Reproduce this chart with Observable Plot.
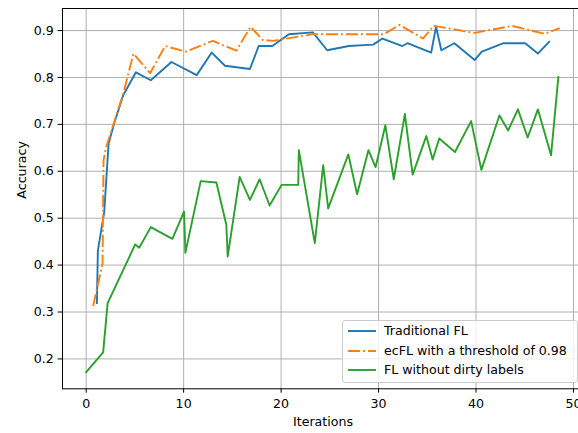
<!DOCTYPE html>
<html>
<head>
<meta charset="utf-8">
<script src="https://cdn.jsdelivr.net/npm/d3@7"></script>
<script src="https://cdn.jsdelivr.net/npm/@observablehq/plot@0.6"></script>
<style>
  html, body { margin: 0; padding: 0; background: #fff; overflow: hidden; }
  #wrap { position: relative; width: 578px; height: 433px; overflow: hidden; }
  #legend {
    position: absolute; left: 342px; top: 320px; width: 234px; height: 61px;
    border: 1px solid #cccccc; border-radius: 3px; background: rgba(255,255,255,0.8);
    font-family: "DejaVu Sans", sans-serif; font-size: 12.6px; color: #000;
  }
  #legend .row { position: absolute; left: 0; height: 20px; width: 100%; }
  #legend svg { position: absolute; left: 4px; top: 0; }
  #legend span { position: absolute; left: 41px; top: 2px; white-space: nowrap; line-height: 16px; }
</style>
</head>
<body>
<div id="wrap"></div>
<script>
// Accuracy per training round for the three set-ups
const traditionalX = [1.1, 1.2, 1.85, 2.1, 2.3, 2.87, 3.8, 5.1, 6.63, 8.75, 11.34, 12.88, 14.24, 16.8, 17.7, 19.1, 20.8, 23.26, 24.73, 26.95, 29.45, 30.4, 32.45, 32.97, 35.4, 35.9, 36.44, 37.78, 39.86, 40.6, 42.83, 45.05, 46.35, 47.5];
const traditionalY = [0.319, 0.431, 0.513, 0.595, 0.659, 0.702, 0.762, 0.811, 0.794, 0.833, 0.805, 0.853, 0.825, 0.818, 0.867, 0.867, 0.892, 0.896, 0.858, 0.867, 0.870, 0.883, 0.867, 0.873, 0.853, 0.908, 0.858, 0.873, 0.837, 0.855, 0.873, 0.873, 0.851, 0.876];

const ecflX = [0.72, 1.68, 1.78, 2.0, 3.8, 4.85, 6.56, 8.1, 10.2, 13.0, 15.4, 16.87, 18.1, 19.2, 23.2, 30.5, 32.15, 34.55, 35.65, 39.86, 43.7, 47.04, 48.6];
const ecflY = [0.313, 0.403, 0.623, 0.648, 0.765, 0.851, 0.809, 0.867, 0.855, 0.878, 0.857, 0.908, 0.880, 0.878, 0.892, 0.892, 0.912, 0.883, 0.910, 0.895, 0.910, 0.893, 0.905];

const cleanX = [0.0, 1.74, 2.2, 5.03, 5.44, 6.63, 8.85, 10.04, 10.18, 11.75, 13.36, 14.38, 14.52, 15.75, 16.8, 17.8, 18.82, 20.05, 21.76, 21.82, 23.46, 24.32, 24.83, 26.9, 27.8, 28.96, 29.7, 30.7, 31.56, 32.7, 33.5, 34.9, 35.55, 36.23, 37.84, 39.5, 40.55, 42.4, 43.3, 44.3, 45.3, 46.35, 47.7, 48.45];
const cleanY = [0.172, 0.214, 0.319, 0.444, 0.437, 0.481, 0.456, 0.514, 0.426, 0.579, 0.576, 0.486, 0.418, 0.588, 0.539, 0.583, 0.527, 0.571, 0.571, 0.645, 0.447, 0.613, 0.521, 0.636, 0.551, 0.645, 0.609, 0.698, 0.583, 0.722, 0.593, 0.675, 0.625, 0.670, 0.641, 0.707, 0.603, 0.719, 0.687, 0.732, 0.672, 0.732, 0.634, 0.801];

const seriesNames = ["Traditional FL", "ecFL with a threshold of 0.98", "FL without dirty labels"];
const seriesColors = ["#1f77b4", "#ff7f0e", "#2ca02c"];
const seriesDash = [null, "12.1,3,1.9,3", null];

const xTicks = [0, 10, 20, 30, 40, 50];
const yTicks = [0.2, 0.3, 0.4, 0.5, 0.6, 0.7, 0.8, 0.9];

const toRows = (xs, ys) => xs.map((x, i) => ({x, y: ys[i]}));
const series = [
  toRows(traditionalX, traditionalY),
  toRows(ecflX, ecflY),
  toRows(cleanX, cleanY)
];

const gridStyle = {stroke: "#b0b0b0", strokeOpacity: 1, strokeWidth: 1};

const chart = Plot.plot({
  width: 578,
  height: 433,
  marginLeft: 62,
  marginRight: -5,
  marginTop: 8,
  marginBottom: 44.7,
  style: {fontFamily: "DejaVu Sans, sans-serif", fontSize: "12.6px", background: "white", color: "black"},
  x: {domain: [-2.43, 51.03]},
  y: {domain: [0.1363, 0.947]},
  marks: [
    Plot.gridX(xTicks, gridStyle),
    Plot.gridY(yTicks, gridStyle),
    ...series.map((rows, i) => Plot.line(rows, {
      x: "x", y: "y",
      stroke: seriesColors[i],
      strokeWidth: 1.9,
      strokeDasharray: seriesDash[i] ?? undefined,
      strokeLinejoin: "round",
      strokeLinecap: seriesDash[i] ? "butt" : "square"
    })),
    Plot.frame({stroke: "black", strokeWidth: 1}),
    Plot.axisX(xTicks, {tickSize: 4.4, tickPadding: 5.5, label: null, tickFormat: d => String(d), fill: "black", stroke: "black"}),
    Plot.axisY(yTicks, {tickSize: 4.4, tickPadding: 4.4, label: null, tickFormat: d3.format(".1f"), fill: "black", stroke: "black"}),
    Plot.text(["Iterations"], {frameAnchor: "bottom", dy: 33.2, lineAnchor: "middle", text: d => d, fill: "black"}),
    Plot.text(["Accuracy"], {frameAnchor: "left", dx: -41, rotate: -90, lineAnchor: "middle", text: d => d, fill: "black"})
  ]
});

const wrap = document.getElementById("wrap");
wrap.appendChild(chart);

// Legend box in the lower-right corner of the axes
const legend = document.createElement("div");
legend.id = "legend";
const rowTops = [0, 19.5, 39];
seriesNames.forEach((name, i) => {
  const row = document.createElement("div");
  row.className = "row";
  row.style.top = rowTops[i] + "px";
  const dash = seriesDash[i] ? ` stroke-dasharray="${seriesDash[i]}"` : "";
  row.innerHTML = `<svg width="30" height="20"><line x1="1" x2="29" y1="10" y2="10" stroke="${seriesColors[i]}" stroke-width="1.9"${dash}/></svg><span>${name}</span>`;
  legend.appendChild(row);
});
wrap.appendChild(legend);
</script>
</body>
</html>
